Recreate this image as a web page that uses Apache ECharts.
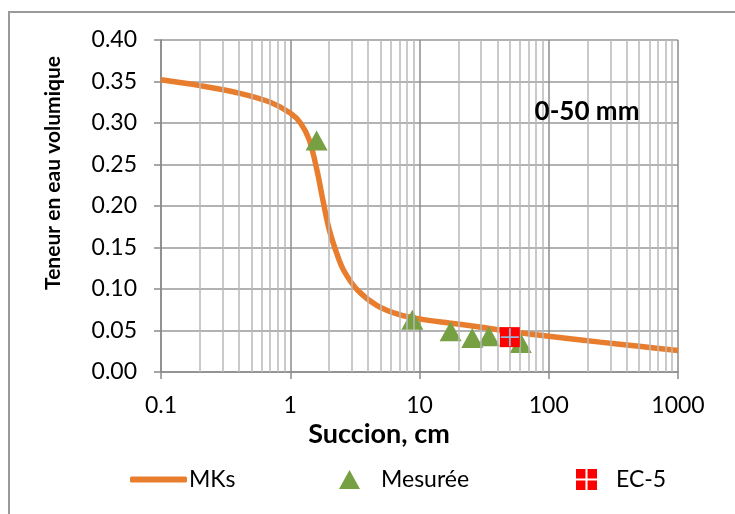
<!DOCTYPE html>
<html>
<head>
<meta charset="utf-8">
<script src="https://cdn.jsdelivr.net/npm/echarts@6/dist/echarts.min.js"></script>
<style>
  html, body { margin: 0; padding: 0; background: #fff; }
  #figureWrapper { width: 735px; height: 514px; }
</style>
</head>
<body>
<div id="figureWrapper"></div>
<script>
// MKs model curve
const mks_x = [0.1, 0.2, 0.4, 0.7, 1, 1.2, 1.4, 1.6, 1.8, 2.0, 2.3, 2.6, 3.3, 4.7, 7, 10, 17, 30, 50, 100, 250, 500, 1000];
const mks_y = [0.352, 0.345, 0.336, 0.325, 0.312, 0.300, 0.280, 0.245, 0.205, 0.172, 0.142, 0.122, 0.099, 0.080, 0.069, 0.064, 0.059, 0.054, 0.049, 0.043, 0.036, 0.031, 0.026];

// measured points
const mes_x = [1.6, 8.8, 17.4, 25.6, 34.4, 60.7];
const mes_y = [0.279, 0.063, 0.049, 0.041, 0.043, 0.035];

// EC-5 sensor
const ec5_x = [50];
const ec5_y = [0.042];

// minor log grid positions
const minor_x = [];
[0.1, 1, 10, 100].forEach((d) => {
  for (let k = 2; k <= 9; k++) minor_x.push(+(d * k).toPrecision(3));
});

const font = 'Lato, "Open Sans", sans-serif';

function merge(xs, ys){
  return xs.map((x, i) => [x, ys[i]]);
}

let myChart = echarts.init(document.getElementById('figureWrapper'), null, { renderer: 'canvas' });

let option = {
  animation: false,
  backgroundColor: '#fff',
  textStyle: { fontFamily: font },
  grid: { left: 161, right: 57, top: 40, bottom: 142 },
  graphic: [
    {
      type: 'rect',
      shape: { x: 9, y: 12, width: 760, height: 540 },
      style: { fill: 'none', stroke: '#9a9a9a', lineWidth: 2 },
      silent: true
    },
    {
      // chart note
      type: 'text',
      x: 587,
      y: 112,
      style: { text: '0-50 mm', font: 'bold 26px ' + font, fill: '#000', align: 'center', verticalAlign: 'middle' },
      z: 10
    },
    {
      // y axis title
      type: 'text',
      x: 53,
      y: 173,
      rotation: Math.PI / 2,
      style: { text: 'Teneur en eau volumique', font: 'bold 21px ' + font, fill: '#000', align: 'center', verticalAlign: 'middle' },
      z: 10
    },
    {
      // x axis title
      type: 'text',
      x: 379,
      y: 434,
      style: { text: 'Succion, cm', font: 'bold 27px ' + font, fill: '#000', align: 'center', verticalAlign: 'middle' },
      z: 10
    }
  ],
  xAxis: {
    type: 'log',
    logBase: 10,
    min: 0.1,
    max: 1000,
    axisLine: { lineStyle: { color: '#8a8a8a', width: 1.5 } },
    axisTick: { show: true, length: 7, lineStyle: { color: '#8a8a8a', width: 1.5 } },
    axisLabel: {
      margin: 22,
      fontSize: 23,
      color: '#000',
      fontFamily: font,
      formatter: (v) => String(v)
    },
    splitLine: { show: true, lineStyle: { color: '#8c8c8c', width: 1.5 } }
  },
  yAxis: {
    type: 'value',
    min: 0,
    max: 0.4,
    interval: 0.05,
    axisLine: { show: true, lineStyle: { color: '#8a8a8a', width: 1.5 } },
    axisTick: { show: true, length: 7, lineStyle: { color: '#8a8a8a', width: 1.5 } },
    axisLabel: {
      margin: 24,
      fontSize: 23,
      color: '#000',
      fontFamily: font,
      formatter: (v) => v.toFixed(2)
    },
    splitLine: { show: true, lineStyle: { color: '#999', width: 1.5 } }
  },
  legend: [
    {
      data: [{ name: 'MKs', icon: 'roundRect' }],
      left: 125,
      top: 463,
      itemWidth: 57,
      itemHeight: 6,
      textStyle: { fontSize: 23, color: '#000', fontFamily: font, padding: [0, 0, 0, -3] },
      selectedMode: false
    },
    {
      data: [{ name: 'Mesurée', icon: 'triangle' }],
      left: 334,
      top: 463,
      itemWidth: 21,
      itemHeight: 19,
      textStyle: { fontSize: 23, color: '#000', fontFamily: font, padding: [0, 0, 0, 16] },
      selectedMode: false
    },
    {
      data: [{ name: 'EC-5', icon: 'path://M0,0h9v9h-9z M11,0h9v9h-9z M0,11h9v9h-9z M11,11h9v9h-9z' }],
      left: 571,
      top: 463,
      itemWidth: 21,
      itemHeight: 21,
      textStyle: { fontSize: 23, color: '#000', fontFamily: font, padding: [0, 0, 0, 14] },
      selectedMode: false
    }
  ],
  series: [
    {
      name: 'minor grid',
      type: 'line',
      data: [],
      z: 1,
      silent: true,
      markLine: {
        silent: true,
        symbol: 'none',
        label: { show: false },
        lineStyle: { color: '#b8b8b8', width: 1.5, type: 'solid' },
        data: minor_x.map((v) => ({ xAxis: v }))
      }
    },
    {
      name: 'MKs',
      type: 'line',
      data: merge(mks_x, mks_y),
      showSymbol: false,
      smooth: 0.35,
      color: '#E97D2E',
      lineStyle: { color: '#E97D2E', width: 5.5 },
      z: 3
    },
    {
      name: 'Mesurée',
      type: 'scatter',
      data: merge(mes_x, mes_y),
      symbol: 'triangle',
      symbolSize: [22, 20],
      itemStyle: { color: '#77A043', opacity: 1 },
      z: 4
    },
    {
      name: 'EC-5',
      type: 'scatter',
      data: merge(ec5_x, ec5_y),
      symbol: 'rect',
      symbolSize: 20,
      itemStyle: { color: '#FF0000', opacity: 1 },
      z: 5
    },
    {
      name: 'EC-5 cross',
      type: 'scatter',
      data: merge(ec5_x, ec5_y),
      symbol: 'path://M9,0h2v9h9v2h-9v9h-2v-9h-9v-2h9z',
      symbolSize: 18,
      itemStyle: { color: '#9DB3D9', opacity: 1 },
      silent: true,
      z: 6
    }
  ]
};

myChart.setOption(option);

window.addEventListener('resize', function() {
  myChart.resize();
});
</script>
</body>
</html>
